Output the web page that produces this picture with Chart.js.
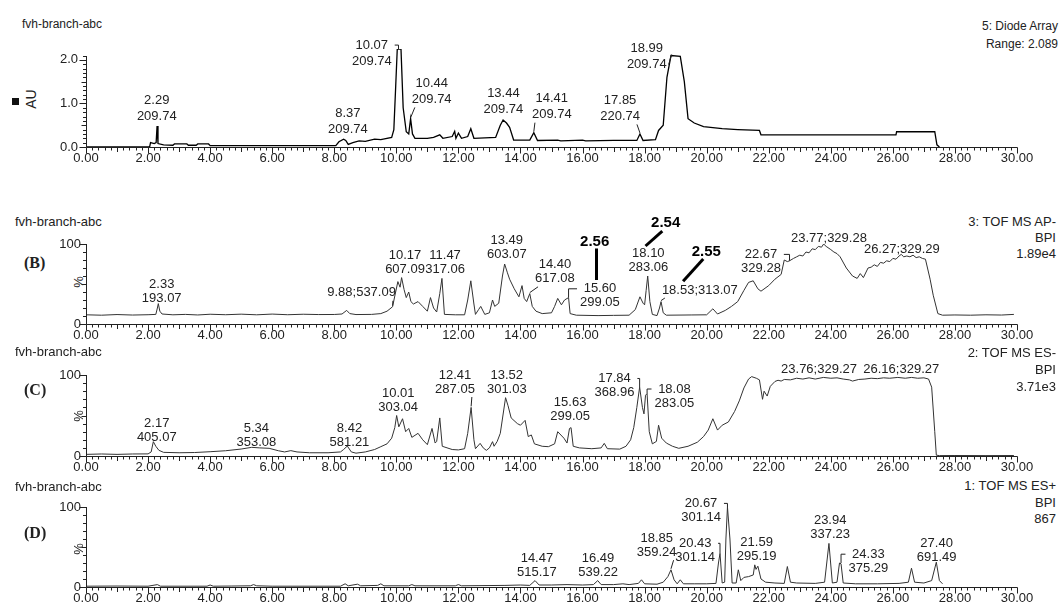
<!DOCTYPE html>
<html>
<head>
<meta charset="utf-8">
<script src="https://cdn.jsdelivr.net/npm/chart.js@4.4.1/dist/chart.umd.min.js"></script>
<style>
  html, body { margin: 0; padding: 0; background: #fff; }
  body { width: 1064px; height: 605px; position: relative; overflow: hidden;
         font-family: 'Liberation Sans', Arial, sans-serif; color: #222; }
  canvas { position: absolute; left: 0; }
  .t { position: absolute; white-space: nowrap; line-height: 1; }
  .r { text-align: right; }
  .rot { transform: translate(-50%, -50%) rotate(-90deg); }
  .tag { font-family: 'Liberation Serif', 'Times New Roman', serif; font-weight: bold; font-size: 16px; }
</style>
</head>
<body>

<!-- panel A -->
<div class="t" style="left:22px;top:18px;font-size:12px">fvh-branch-abc</div>
<div class="t r" style="right:6px;top:17px;font-size:12px;line-height:18px">5: Diode Array<br>Range: 2.089</div>
<div style="position:absolute;left:12px;top:98px;width:7px;height:7px;background:#111"></div>
<div class="t rot" style="left:31px;top:99px;font-size:14px">AU</div>
<canvas id="chartA" width="1064" height="160" style="top:9px"></canvas>

<!-- panel B -->
<div class="t" style="left:15px;top:215px;font-size:13px">fvh-branch-abc</div>
<div class="t tag" style="left:24px;top:255px">(B)</div>
<div class="t rot" style="left:78px;top:282px;font-size:13px">%</div>
<div class="t r" style="right:8px;top:214px;font-size:13px;line-height:16px">3: TOF MS AP-<br>BPI<br>1.89e4</div>
<canvas id="chartB" width="1064" height="142" style="top:204px"></canvas>

<!-- panel C -->
<div class="t" style="left:15px;top:345px;font-size:13px">fvh-branch-abc</div>
<div class="t tag" style="left:24px;top:382px">(C)</div>
<div class="t rot" style="left:78px;top:416px;font-size:13px">%</div>
<div class="t r" style="right:8px;top:344px;font-size:13px;line-height:17px">2: TOF MS ES-<br>BPI<br>3.71e3</div>
<canvas id="chartC" width="1064" height="143" style="top:335px"></canvas>

<!-- panel D -->
<div class="t" style="left:15px;top:480px;font-size:13px">fvh-branch-abc</div>
<div class="t tag" style="left:24px;top:525px">(D)</div>
<div class="t rot" style="left:78px;top:549px;font-size:13px">%</div>
<div class="t r" style="right:8px;top:478px;font-size:13px;line-height:16.5px">1: TOF MS ES+<br>BPI<br>867</div>
<canvas id="chartD" width="1064" height="142" style="top:467px"></canvas>

<script>
// retention time (min) , response
const diodeArray = [[0,0],[2.05,0],[2.08,0.1],[2.2,0.08],[2.26,0.1],[2.29,0.48],[2.32,0.08],[2.5,0.05],[2.8,0.04],[2.85,0.07],
  [3.25,0.07],[3.3,0.04],[3.55,0.04],[3.6,0.07],[3.95,0.07],[4.0,0.03],[8.05,0.03],[8.15,0.12],[8.3,0.18],[8.37,0.15],
  [8.45,0.06],[8.6,0.1],[8.8,0.14],[9.0,0.13],[9.3,0.18],[9.5,0.17],[9.85,0.22],[9.92,0.4],[9.98,1.4],[10.03,2.25],
  [10.15,2.25],[10.22,0.9],[10.32,0.35],[10.4,0.3],[10.46,0.65],[10.52,0.3],[10.6,0.2],[11.0,0.2],[11.2,0.22],[11.4,0.28],
  [11.5,0.2],[11.8,0.24],[11.88,0.36],[11.92,0.2],[12.0,0.32],[12.1,0.2],[12.3,0.24],[12.4,0.42],[12.5,0.2],[13.2,0.22],
  [13.35,0.5],[13.44,0.62],[13.55,0.55],[13.65,0.45],[13.78,0.16],[14.3,0.16],[14.43,0.33],[14.55,0.15],[15.2,0.16],[15.3,0.14],
  [16.0,0.16],[16.1,0.14],[17.0,0.15],[17.75,0.15],[17.85,0.3],[17.95,0.15],[18.35,0.17],[18.45,0.38],[18.6,0.5],[18.72,1.6],
  [18.85,2.1],[19.15,2.08],[19.28,1.5],[19.4,0.65],[19.6,0.55],[19.9,0.47],[20.5,0.42],[21.0,0.4],[21.7,0.38],[21.75,0.28],
  [26.1,0.28],[26.12,0.35],[27.35,0.35],[27.42,0.05],[27.5,0]];

const tofApNeg = [[0,11.5],[0.5,11],[1.0,11.8],[1.5,11.2],[2.0,11.6],[2.25,12],[2.3,20],[2.33,25.5],[2.38,16],[2.45,12.5],
  [2.8,11.5],[3.2,12],[3.6,11.3],[4.0,12.2],[4.5,11.6],[5.0,12.3],[5.5,11.5],[6.0,12.4],[6.5,11.6],[7.0,12.2],[7.5,11.8],
  [8.0,11.9],[8.25,12.5],[8.4,17],[8.5,13],[8.7,11.8],[9.2,12],[9.5,13],[9.7,16],[9.88,21.6],[9.95,35],[10.05,53],[10.12,46],
  [10.17,58],[10.25,43],[10.32,33],[10.4,40],[10.47,28],[10.55,25],[10.7,28],[10.85,22],[11.0,16],[11.1,33],[11.2,20],
  [11.3,15],[11.4,38],[11.47,57],[11.55,12],[11.9,11.5],[12.2,11.5],[12.3,30],[12.4,54],[12.5,25],[12.55,12],[12.65,18],
  [12.72,22],[12.85,12],[13.0,14],[13.1,30],[13.17,22],[13.3,26],[13.42,60],[13.49,75],[13.58,64],[13.65,56],[13.8,44],
  [13.95,34],[14.05,48],[14.12,32],[14.2,28],[14.3,38],[14.38,22],[14.5,16],[14.7,13],[15.0,14],[15.1,22],[15.2,32],
  [15.32,24],[15.42,30],[15.55,33],[15.6,13],[15.8,11],[16.5,10.5],[17.0,10.8],[17.5,11],[17.7,18],[17.85,34],[17.95,26],
  [18.0,24],[18.05,42],[18.10,60],[18.17,28],[18.25,12],[18.4,10.5],[18.48,20],[18.53,28],[18.6,14],[18.7,11],[19.5,11.3],
  [20.0,11.5],[20.2,19],[20.35,12.5],[20.6,17],[20.8,22],[21.0,28],[21.2,42],[21.35,52],[21.5,54],[21.65,44],[21.75,41],
  [22.0,48],[22.2,56],[22.4,62],[22.5,80],[22.6,78],[22.67,79],[22.8,82],[22.9,84],[23.0,86],[23.1,85],[23.2,90],[23.3,89],
  [23.4,94],[23.5,93],[23.6,97],[23.7,96],[23.77,100],[23.85,97],[24.0,93],[24.1,90],[24.2,88],[24.3,84],[24.5,70],
  [24.7,60],[24.85,57],[24.95,63],[25.05,58],[25.2,70],[25.3,71],[25.4,74],[25.5,72],[25.6,77],[25.7,76],[25.8,79],
  [25.9,78],[26.0,82],[26.1,81],[26.2,85],[26.27,87],[26.35,84],[26.45,85],[26.55,84],[26.65,86],[26.75,83],[26.85,84],
  [26.95,82],[27.05,81],[27.2,56],[27.3,36],[27.45,13],[27.6,11],[28.0,11.3],[28.5,11],[29.0,11.5],[29.5,11.2],[29.9,12]];

const tofEsNeg = [[0,2],[0.5,2.5],[1.0,2],[1.5,2.5],[2.0,2.6],[2.1,5],[2.17,17.7],[2.25,12],[2.35,7],[2.5,4.5],[3.0,4],
  [3.5,4.3],[4.0,5.3],[4.5,6.5],[5.0,8.6],[5.34,10.7],[5.6,10],[5.9,9.5],[6.2,6.5],[6.4,5],[6.6,6.6],[6.8,5],[7.2,4],
  [7.8,4],[8.2,5],[8.3,8],[8.42,12.3],[8.55,5],[8.7,3.5],[9.0,5],[9.3,8],[9.5,11.5],[9.7,15],[9.85,22],[9.95,35],[10.01,50],
  [10.08,36],[10.2,46],[10.3,30],[10.4,34],[10.5,23],[10.7,28],[10.85,20],[11.0,14],[11.15,34],[11.25,16],[11.3,18],
  [11.4,47],[11.48,12],[11.8,8],[12.0,7.5],[12.2,9],[12.3,28],[12.41,60],[12.5,20],[12.55,9],[12.7,15.6],[12.8,10],
  [12.9,7],[13.0,10],[13.1,17.7],[13.15,12],[13.25,18],[13.35,28],[13.52,72],[13.6,62],[13.7,47],[13.9,40],[14.0,38],
  [14.15,44],[14.25,24],[14.35,26],[14.45,15],[14.7,12],[14.9,11.5],[15.1,15],[15.2,30],[15.4,22],[15.5,16],[15.58,34],
  [15.63,35],[15.7,12],[15.9,10],[16.3,9],[16.6,10],[16.7,15.6],[16.8,9],[17.2,8.5],[17.4,12],[17.55,20],[17.65,35],
  [17.75,60],[17.84,85],[17.93,60],[17.98,52],[18.03,75],[18.08,77],[18.15,30],[18.25,15],[18.38,18],[18.45,38],[18.55,22],
  [18.7,16],[18.9,12],[19.1,9.5],[19.4,12],[19.7,17],[19.9,24],[20.05,32],[20.2,46],[20.35,32],[20.5,38],[20.7,42],
  [20.9,55],[21.05,68],[21.2,84],[21.35,95],[21.45,98],[21.6,96],[21.7,94],[21.8,70],[21.85,80],[21.95,74],[22.05,86],
  [22.2,92],[22.3,93.5],[22.4,92.5],[22.5,94.5],[22.7,94],[22.9,96],[23.1,95],[23.3,96.5],[23.5,95],[23.76,97],[24.0,96],
  [24.2,96.5],[24.4,95],[24.6,94],[24.7,92.5],[24.9,94.5],[25.1,95],[25.3,96],[25.5,95.5],[25.7,96.5],[25.9,96],[26.16,97],
  [26.4,96],[26.6,97],[26.8,96],[27.0,96.5],[27.15,95],[27.25,85],[27.35,30],[27.4,1],[27.5,0.5],[28,0.6],[29,0.5],[29.9,0.6]];

const tofEsPos = [[0,1],[1.0,1.2],[2.0,1],[2.3,3],[2.4,1],[3.9,1],[4.0,2.5],[4.1,1],[4.7,1.2],[5.3,1.5],[5.4,3],[5.5,1.5],
  [6.0,1],[8.2,1],[8.35,4],[8.45,1.5],[8.75,3.5],[8.85,1.5],[9.4,2],[9.5,4],[9.6,1.5],[10.4,1.5],[10.5,3],[10.6,1.5],
  [11.9,1.5],[12.0,3],[12.1,1.5],[13.5,2],[14.0,2.5],[14.3,2],[14.47,8],[14.6,2.5],[15.0,2.5],[15.5,3],[16.0,2.5],[16.35,3],
  [16.49,8],[16.6,3],[17.0,3],[17.3,4],[17.5,3],[17.8,4.5],[17.9,9],[18.0,4],[18.4,3.5],[18.6,6],[18.75,13],[18.85,21.5],
  [18.95,9],[19.05,4],[19.15,9],[19.25,4],[19.6,4],[20.0,4],[20.3,4.5],[20.38,30],[20.43,42],[20.5,5],[20.58,6],[20.62,60],
  [20.67,100],[20.75,60],[20.82,5],[20.95,5],[21.02,21.5],[21.1,8],[21.2,12],[21.35,13],[21.5,15],[21.55,27.7],[21.59,22],
  [21.65,26],[21.75,10],[21.9,6],[22.2,5],[22.5,4.5],[22.6,25.6],[22.7,6],[22.9,5],[23.5,4.5],[23.8,6],[23.94,54.5],
  [24.05,5],[24.2,6],[24.28,30],[24.33,29],[24.4,5],[24.8,4],[25.5,4],[26.2,4.5],[26.5,6],[26.6,23.5],[26.7,6],[27.0,5],
  [27.25,8],[27.4,31],[27.5,8],[27.6,4]];

// peak annotations: at = peak time the leader points to, lx/ly = label place in axis units
const peaksA = [
  {at: 2.29, text: ['2.29', '209.74'], lx: 2.28, ly: 1.06},
  {at: 8.37, text: ['8.37', '209.74'], lx: 8.44, ly: 0.76},
  {at: 10.07, text: ['10.07', '209.74'], lx: 9.21, ly: 2.34, lead: 'bracketR'},
  {at: 10.46, text: ['10.44', '209.74'], lx: 11.14, ly: 1.46, lead: 'diag'},
  {at: 13.44, text: ['13.44', '209.74'], lx: 13.45, ly: 1.23},
  {at: 14.43, text: ['14.41', '209.74'], lx: 15.01, ly: 1.11, lead: 'diag'},
  {at: 17.85, text: ['17.85', '220.74'], lx: 17.21, ly: 1.07, lead: 'diag'},
  {at: 18.87, text: ['18.99', '209.74'], lx: 18.07, ly: 2.26, lead: 'diag'}
];
const peaksB = [
  {at: 2.33, text: ['2.33', '193.07'], lx: 2.44, ly: 50},
  {at: 9.88, text: ['9.88;537.09'], lx: 8.88, ly: 39, lead: 'diag'},
  {at: 10.17, text: ['10.17', '607.09'], lx: 10.28, ly: 86},
  {at: 11.47, text: ['11.47', '317.06'], lx: 11.57, ly: 86},
  {at: 13.49, text: ['13.49', '603.07'], lx: 13.56, ly: 105},
  {at: 14.3, text: ['14.40', '617.08'], lx: 15.11, ly: 74, lead: 'diag'},
  {at: 15.55, text: ['15.60', '299.05'], lx: 16.56, ly: 44, lead: 'bracketL'},
  {at: 18.10, text: ['18.10', '283.06'], lx: 18.12, ly: 88},
  {at: 18.53, text: ['18.53;313.07'], lx: 19.78, ly: 42.5, lead: 'diag'},
  {at: 22.67, text: ['22.67', '329.28'], lx: 21.75, ly: 87, lead: 'bracketR'},
  {at: 23.77, text: ['23.77;329.28'], lx: 23.94, ly: 107.5},
  {at: 26.27, text: ['26.27;329.29'], lx: 26.29, ly: 93}
];
const marksB = [
  {text: '2.54', x: 18.68, y: 127, from: [18.57, 116], to: [18.03, 97.5]},
  {text: '2.56', x: 16.39, y: 103, from: [16.45, 94.4], to: [16.45, 55]},
  {text: '2.55', x: 19.99, y: 90, from: [19.89, 81.4], to: [19.24, 53.3]}
];
const peaksC = [
  {at: 2.17, text: ['2.17', '405.07'], lx: 2.28, ly: 40.7},
  {at: 5.34, text: ['5.34', '353.08'], lx: 5.49, ly: 34.6},
  {at: 8.42, text: ['8.42', '581.21'], lx: 8.49, ly: 34.6},
  {at: 10.01, text: ['10.01', '303.04'], lx: 10.06, ly: 77.4},
  {at: 12.41, text: ['12.41', '287.05'], lx: 11.89, ly: 100, lead: 'diag'},
  {at: 13.52, text: ['13.52', '301.03'], lx: 13.56, ly: 100},
  {at: 15.63, text: ['15.63', '299.05'], lx: 15.6, ly: 66.3},
  {at: 17.84, text: ['17.84', '368.96'], lx: 17.03, ly: 95.7, lead: 'bracketR'},
  {at: 18.08, text: ['18.08', '283.05'], lx: 18.96, ly: 82.7, lead: 'bracketL'},
  {at: 23.76, text: ['23.76;329.27'], lx: 23.62, ly: 107.5},
  {at: 26.16, text: ['26.16;329.27'], lx: 26.27, ly: 107.5}
];
const peaksD = [
  {at: 14.47, text: ['14.47', '515.17'], lx: 14.53, ly: 36},
  {at: 16.49, text: ['16.49', '539.22'], lx: 16.5, ly: 36},
  {at: 18.85, text: ['18.85', '359.24'], lx: 18.39, ly: 61, lead: 'diag'},
  {at: 20.43, text: ['20.43', '301.14'], lx: 19.63, ly: 54.6, lead: 'bracketR'},
  {at: 20.67, text: ['20.67', '301.14'], lx: 19.82, ly: 104.5, lead: 'bracketR'},
  {at: 21.59, text: ['21.59', '295.19'], lx: 21.61, ly: 56},
  {at: 23.94, text: ['23.94', '337.23'], lx: 23.98, ly: 83},
  {at: 24.33, text: ['24.33', '375.29'], lx: 25.21, ly: 41, lead: 'bracketL'},
  {at: 27.40, text: ['27.40', '691.49'], lx: 27.41, ly: 55}
];

const xTicks = [0, 2, 4, 6, 8, 10, 12, 14, 16, 18, 20, 22, 24, 26, 28, 30];
const auTicks = [0, 1, 2];
const pctTicks = [0, 100];

const FONT = '"Liberation Sans", Arial, sans-serif';

function apex(series, t) {
  let best = 0;
  series.forEach(p => { if (Math.abs(p[0] - t) <= 0.06 && p[1] > best) best = p[1]; });
  return best;
}

// peak labels + leaders
function peakPlugin(labels, lineH, marks) {
  return {
    id: 'peakLabels',
    afterDatasetsDraw(chart) {
      const ctx = chart.ctx, x = chart.scales.x, y = chart.scales.y;
      const series = chart.data.datasets[0].data.map(p => [p.x, p.y]);
      ctx.save();
      ctx.font = '13px ' + FONT;
      ctx.fillStyle = '#222';
      ctx.strokeStyle = '#222';
      ctx.lineWidth = 1;
      ctx.textAlign = 'center';
      ctx.textBaseline = 'middle';
      labels.forEach(lab => {
        const cx = x.getPixelForValue(lab.lx);
        const cy = y.getPixelForValue(lab.ly);
        const w = Math.max(...lab.text.map(s => ctx.measureText(s).width));
        lab.text.forEach((s, i) => ctx.fillText(s, cx, cy + i * lineH));
        if (!lab.lead) return;
        const ax = x.getPixelForValue(lab.at);
        const ay = y.getPixelForValue(apex(series, lab.at));
        const left = cx - w / 2, right = cx + w / 2;
        const lastY = cy + (lab.text.length - 1) * lineH;
        const bottom = lastY + 7;
        ctx.beginPath();
        if (lab.lead === 'diag') {
          if (ay < bottom) {
            ctx.moveTo(ax < cx ? left - 2 : right + 2, lastY);
          } else {
            ctx.moveTo(ax < cx ? left + 3 : right - 3, bottom + 1);
          }
          ctx.lineTo(ax, ay - 1);
        } else if (lab.lead === 'bracketR') {
          ctx.moveTo(right + 3, cy);
          ctx.lineTo(ax, cy);
          ctx.lineTo(ax, ay);
        } else {
          ctx.moveTo(left - 3, cy);
          ctx.lineTo(ax, cy);
          ctx.lineTo(ax, ay);
        }
        ctx.stroke();
      });
      (marks || []).forEach(m => {
        ctx.font = 'bold 15px ' + FONT;
        ctx.fillStyle = '#000';
        ctx.fillText(m.text, x.getPixelForValue(m.x), y.getPixelForValue(m.y));
        ctx.beginPath();
        ctx.lineWidth = 3;
        ctx.strokeStyle = '#000';
        ctx.moveTo(x.getPixelForValue(m.from[0]), y.getPixelForValue(m.from[1]));
        ctx.lineTo(x.getPixelForValue(m.to[0]), y.getPixelForValue(m.to[1]));
        ctx.stroke();
      });
      ctx.restore();
    }
  };
}

// axis lines with major / minor tick marks
function axisPlugin(yStep, yMajor, yTop) {
  return {
    id: 'axisTicks',
    afterDraw(chart) {
      const ctx = chart.ctx, x = chart.scales.x, y = chart.scales.y, area = chart.chartArea;
      ctx.save();
      ctx.strokeStyle = '#222';
      ctx.lineWidth = 1;
      ctx.beginPath();
      const by = Math.round(area.bottom) + 0.5;
      const lx = Math.round(area.left) + 0.5;
      ctx.moveTo(lx, by);
      ctx.lineTo(Math.round(area.right) + 0.5, by);
      ctx.moveTo(lx, by);
      ctx.lineTo(lx, Math.round(y.getPixelForValue(yTop)));
      for (let k = 0; k <= 150; k++) {
        const px = Math.round(x.getPixelForValue(k * 0.2)) + 0.5;
        const len = k % 10 === 0 ? 6 : (k % 5 === 0 ? 4.5 : 3);
        ctx.moveTo(px, by);
        ctx.lineTo(px, by + len);
      }
      const n = Math.round(yTop / yStep);
      for (let k = 0; k <= n; k++) {
        const v = k * yStep;
        const py = Math.round(y.getPixelForValue(v)) + 0.5;
        const r = v / yMajor;
        const len = Math.abs(r - Math.round(r)) < 1e-6 ? 7 : (Math.abs(r * 2 - Math.round(r * 2)) < 1e-6 ? 5 : 3.5);
        ctx.moveTo(lx, py);
        ctx.lineTo(lx - len, py);
      }
      ctx.stroke();
      ctx.restore();
    }
  };
}

function makePanel(id, series, cfg) {
  new Chart(document.getElementById(id), {
    type: 'line',
    data: {
      datasets: [{
        data: series.map(p => ({x: p[0], y: p[1]})),
        borderColor: cfg.color,
        borderWidth: cfg.width,
        pointRadius: 0,
        tension: 0,
        fill: false
      }]
    },
    options: {
      responsive: false,
      animation: false,
      events: [],
      layout: {padding: {top: 40, right: 47, left: 0, bottom: 0}},
      plugins: {legend: {display: false}, tooltip: {enabled: false}},
      scales: {
        x: {
          type: 'linear', min: 0, max: 30,
          afterBuildTicks: s => { s.ticks = xTicks.map(v => ({value: v})); },
          afterFit: s => { s.height = 22; },
          grid: {display: false, drawTicks: false},
          border: {display: false},
          ticks: {
            autoSkip: false, maxRotation: 0, padding: 4, color: '#222',
            font: {family: FONT, size: 13},
            callback: v => Number(v).toFixed(2)
          }
        },
        y: {
          type: 'linear', min: 0, max: cfg.yMax,
          afterBuildTicks: s => { s.ticks = cfg.yTicks.map(v => ({value: v})); },
          afterFit: s => { s.width = 86; },
          grid: {display: false, drawTicks: false},
          border: {display: false},
          ticks: {
            padding: cfg.yPad, color: '#222',
            font: {family: FONT, size: 13},
            callback: cfg.yFmt
          }
        }
      }
    },
    plugins: [axisPlugin(cfg.yStep, cfg.yMajor, cfg.yTop), peakPlugin(cfg.peaks, cfg.lineH, cfg.marks)]
  });
}

makePanel('chartA', diodeArray, {
  color: '#000', width: 1.3, yMax: 2.25, yTicks: auTicks, yFmt: v => Number(v).toFixed(1), yPad: 8,
  yStep: 0.1, yMajor: 1, yTop: 2.1, peaks: peaksA, lineH: 16
});
makePanel('chartB', tofApNeg, {
  color: '#333', width: 1, yMax: 100, yTicks: pctTicks, yFmt: v => String(v), yPad: 5,
  yStep: 10, yMajor: 100, yTop: 100, peaks: peaksB, lineH: 14, marks: marksB
});
makePanel('chartC', tofEsNeg, {
  color: '#333', width: 1, yMax: 100, yTicks: pctTicks, yFmt: v => String(v), yPad: 5,
  yStep: 10, yMajor: 100, yTop: 100, peaks: peaksC, lineH: 14
});
makePanel('chartD', tofEsPos, {
  color: '#333', width: 1, yMax: 100, yTicks: pctTicks, yFmt: v => String(v), yPad: 5,
  yStep: 10, yMajor: 100, yTop: 100, peaks: peaksD, lineH: 14
});
</script>
</body>
</html>
